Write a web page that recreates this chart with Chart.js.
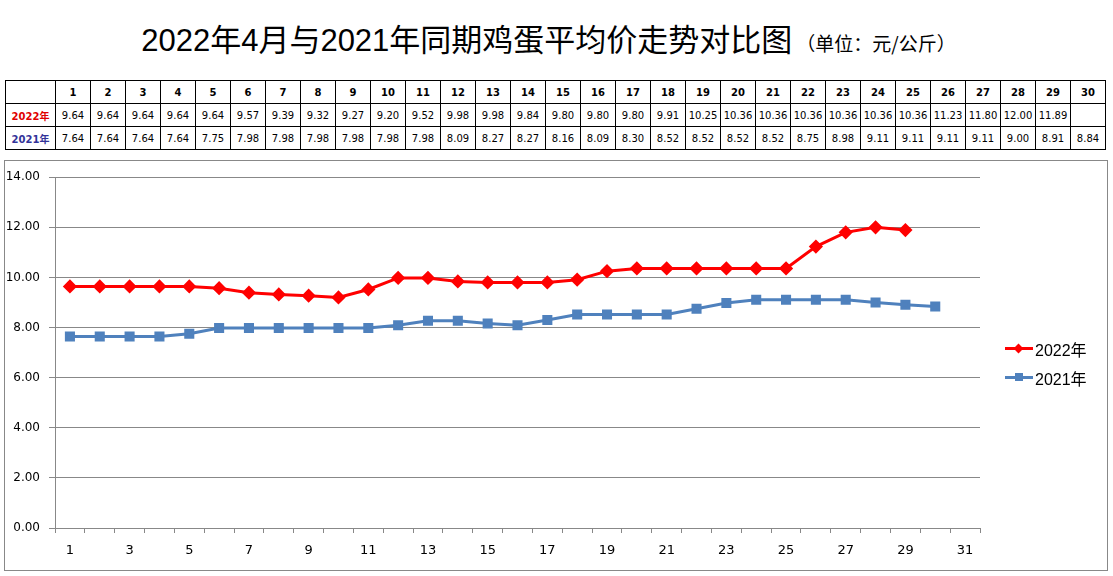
<!DOCTYPE html>
<html>
<head>
<meta charset="utf-8">
<script src="https://cdn.jsdelivr.net/npm/chart.js@4.4.0/dist/chart.umd.min.js"></script>
<style>
  body { margin: 0; background: #fff; font-family: "Liberation Sans", "Noto Sans CJK SC", sans-serif; }
  #title { position: absolute; left: 0; top: 20px; width: 1097px; text-align: center; white-space: nowrap;
    font-family: "Liberation Sans", "Noto Sans CJK SC", sans-serif; font-size: 31px; color: #000; line-height: 42px; }
  #title small { font-size: 19px; font-family: "Noto Sans CJK SC", sans-serif; margin-left: 4px; }
  #tbl { position: absolute; left: 5px; top: 80px; border-collapse: collapse; table-layout: fixed;
    font-family: "DejaVu Sans", "Noto Sans CJK SC", sans-serif; font-size: 10px; }
  #tbl td { border: 1px solid #000; height: 22px; padding: 0; text-align: center; }
  #tbl tr:first-child td { font-weight: bold; }
  #frame { position: absolute; left: 4px; top: 160px; width: 1102px; height: 409px; border: 1px solid #888; }
  #legend { position: absolute; left: 1005px; top: 334px; font-family: "Liberation Sans", "Noto Sans CJK SC", sans-serif; font-size: 16px; }
  .lg { display: flex; align-items: center; height: 29px; }
  .ln { position: relative; width: 28px; height: 3px; margin-right: 2px; }
  .mk { position: absolute; left: 10px; top: -3px; width: 8px; height: 8px; }
</style>
</head>
<body>
<div id="title">2022年4月与2021年同期鸡蛋平均价走势对比图<small>（单位：元/公斤）</small></div>
<table id="tbl"></table>
<div id="frame"><canvas id="myChart" width="1102" height="409"></canvas></div>
<div id="legend">
  <div class="lg"><div class="ln" style="background:#ff0000"><div class="mk" style="background:#ff0000;transform:rotate(45deg);width:7px;height:7px;top:-2px"></div></div>2022年</div>
  <div class="lg"><div class="ln" style="background:#4f81bd"><div class="mk" style="background:#4f81bd"></div></div>2021年</div>
</div>
<script>
  var days = ["1","2","3","4","5","6","7","8","9","10","11","12","13","14","15","16","17","18","19","20","21","22","23","24","25","26","27","28","29","30","31"];
  var price2022 = [9.64, 9.64, 9.64, 9.64, 9.64, 9.57, 9.39, 9.32, 9.27, 9.20, 9.52, 9.98, 9.98, 9.84, 9.80, 9.80, 9.80, 9.91, 10.25, 10.36, 10.36, 10.36, 10.36, 10.36, 10.36, 11.23, 11.80, 12.00, 11.89, null];
  var price2021 = [7.64, 7.64, 7.64, 7.64, 7.75, 7.98, 7.98, 7.98, 7.98, 7.98, 7.98, 8.09, 8.27, 8.27, 8.16, 8.09, 8.30, 8.52, 8.52, 8.52, 8.52, 8.75, 8.98, 9.11, 9.11, 9.11, 9.11, 9.00, 8.91, 8.84];

  // table above the chart
  function buildTable() {
    var tbl = document.getElementById("tbl");
    var html = "<colgroup><col style='width:50px'>";
    for (var i = 0; i < 30; i++) html += "<col style='width:35px'>";
    html += "</colgroup><tr><td></td>";
    for (var i = 0; i < 30; i++) html += "<td>" + days[i] + "</td>";
    html += "</tr><tr><td style='color:#e00000;font-weight:bold'>2022年</td>";
    price2022.forEach(function (v) { html += "<td>" + (v == null ? "" : v.toFixed(2)) + "</td>"; });
    html += "</tr><tr><td style='color:#333399;font-weight:bold'>2021年</td>";
    price2021.forEach(function (v) { html += "<td>" + v.toFixed(2) + "</td>"; });
    html += "</tr>";
    tbl.innerHTML = html;
  }
  buildTable();

  var ctx = document.getElementById("myChart").getContext("2d");
  var myChart = new Chart(ctx, {
    type: "line",
    data: {
      labels: days,
      datasets: [
        {
          label: "2022年",
          data: price2022,
          borderColor: "#ff0000",
          backgroundColor: "#ff0000",
          borderWidth: 3,
          pointStyle: "rectRot",
          pointRadius: 5,
          tension: 0,
        },
        {
          label: "2021年",
          data: price2021,
          borderColor: "#4f81bd",
          backgroundColor: "#4f81bd",
          borderWidth: 3,
          pointStyle: "rect",
          pointRadius: 5,
          tension: 0,
        },
      ],
    },
    options: {
      responsive: false,
      animation: false,
      layout: { padding: { top: 12, right: 127, left: 0, bottom: 0 } },
      scales: {
        x: {
          offset: true,
          grid: { offset: true, drawOnChartArea: false, drawTicks: true, tickLength: 5, color: "#888" },
          border: { color: "#888" },
          ticks: {
            autoSkip: false,
            maxRotation: 0,
            color: "#000",
            font: { family: "DejaVu Sans", size: 13 },
            padding: 10,
            callback: function (val, i) { return i % 2 === 0 ? this.getLabelForValue(val) : ""; },
          },
          afterFit: function (scale) { scale.height = 42; },
        },
        y: {
          min: 0,
          max: 14,
          ticks: {
            stepSize: 2,
            color: "#000",
            font: { family: "DejaVu Sans", size: 12 },
            padding: 9,
            callback: function (v) { return v.toFixed(2); },
          },
          grid: { color: "#888", tickLength: 6 },
          border: { color: "#888" },
          afterFit: function (scale) { scale.width = 50; },
        },
      },
      plugins: {
        legend: { display: false },
        tooltip: { enabled: false },
      },
    },
  });
</script>
</body>
</html>
